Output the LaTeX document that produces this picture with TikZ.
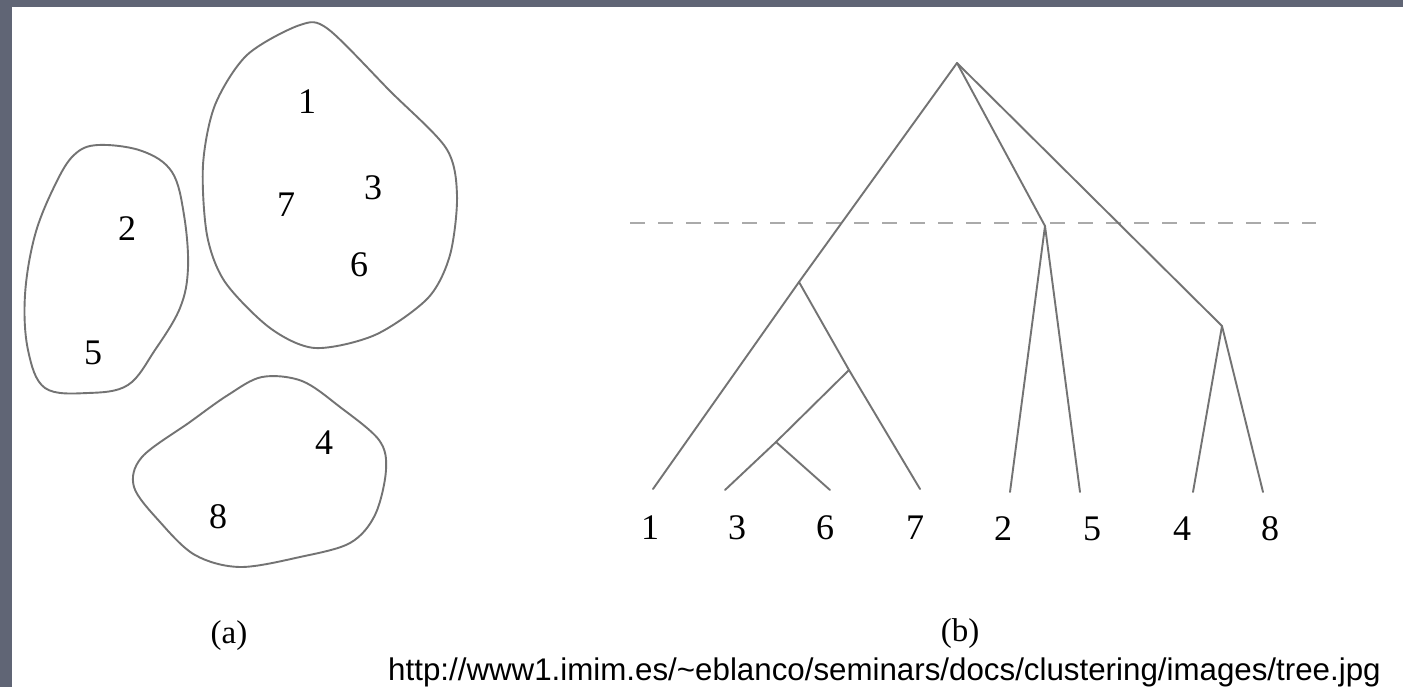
\documentclass[tikz,border=0pt]{standalone}
\usepackage{fontspec}
\setmainfont{Liberation Serif}
\newfontfamily\urlfont{Liberation Sans}
\definecolor{slate}{RGB}{96,101,117}
\definecolor{linegrey}{RGB}{115,115,115}
\definecolor{dashgrey}{RGB}{170,170,170}
\begin{document}
\begin{tikzpicture}[x=1pt,y=-1pt,
  edge/.style={draw=linegrey,line width=1.9pt,line cap=round,line join=round},
  blob/.style={draw=linegrey,line width=1.9pt},
  cutline/.style={draw=dashgrey,line width=2pt,dash pattern=on 15pt off 13pt},
  num/.style={inner sep=0pt,font=\fontsize{36}{40}\selectfont,text=black},
  captext/.style={inner sep=0pt,font=\fontsize{33}{40}\selectfont,text=black},
  urltext/.style={inner sep=0pt,anchor=base west,font=\urlfont\fontsize{31.3}{36}\selectfont,text=black}]
\useasboundingbox (0,0) rectangle (1403,687);
\fill[white] (0,0) rectangle (1403,687);
\fill[slate] (0,0) rectangle (1403,7);
\fill[slate] (0,0) rectangle (12,687);

% ---------- (a) clusters ----------
\draw[blob] plot[smooth cycle,tension=0.5] coordinates {
  (300,25) (328,29) (390,91) (446,148) (457,195) (450,255) (428,298)
  (375,335) (315,348) (270,328) (225,282) (207,235) (203,165) (215,105) (247,55)};
\draw[blob] plot[smooth cycle,tension=0.6] coordinates {
  (98,145) (142,151) (172,172) (184,215) (188,268) (180,308) (155,350)
  (128,385) (88,393) (45,388) (28,350) (25,295) (35,235) (55,185) (74,155)};
\draw[blob] plot[smooth cycle,tension=0.55] coordinates {
  (262,377) (302,381) (340,407) (379,440) (386,470) (375,515) (350,543)
  (300,557) (240,567) (195,555) (160,522) (134,487) (142,457) (190,422) (228,395)};

\node[num] (a1) at (307,102) {1};
\node[num] (a7) at (286,205) {7};
\node[num] (a3) at (373,188) {3};
\node[num] (a6) at (359,265) {6};
\node[num] (a2) at (127,229) {2};
\node[num] (a5) at (93,353) {5};
\node[num] (a4) at (324,443) {4};
\node[num] (a8) at (218,517) {8};
\node[captext] (capa) at (229,636) {(a)};

% ---------- (b) dendrogram ----------
\draw[cutline] (630,223) coordinate (cutL) -- (1316,223) coordinate (cutR);

\coordinate (root) at (957,63);
\coordinate (nA) at (799,282);
\coordinate (nB) at (849,370);
\coordinate (nC) at (776,442);
\coordinate (nD) at (1045,226);
\coordinate (nE) at (1222,326);
\coordinate (e1) at (653,489);
\coordinate (e3) at (725,490);
\coordinate (e6) at (830,490);
\coordinate (e7) at (920,489);
\coordinate (e2) at (1010,492);
\coordinate (e5) at (1080,492);
\coordinate (e4) at (1193,492);
\coordinate (e8) at (1263,492);

\draw[edge] (root) -- (nA) -- (e1);
\draw[edge] (nA) -- (nB) -- (e7);
\draw[edge] (nB) -- (nC) -- (e3);
\draw[edge] (nC) -- (e6);
\draw[edge] (root) -- (nD) -- (e2);
\draw[edge] (nD) -- (e5);
\draw[edge] (root) -- (nE) -- (e4);
\draw[edge] (nE) -- (e8);

\node[num] (b1) at (650,528) {1};
\node[num] (b3) at (737,528) {3};
\node[num] (b6) at (825,528) {6};
\node[num] (b7) at (915,528) {7};
\node[num] (b2) at (1003,529) {2};
\node[num] (b5) at (1092,529) {5};
\node[num] (b4) at (1182,529) {4};
\node[num] (b8) at (1270,529) {8};
\node[captext] (capb) at (960,634) {(b)};

\node[urltext] (url) at (388,680) {http://www1.imim.es/\textasciitilde eblanco/seminars/docs/clustering/images/tree.jpg};
\end{tikzpicture}
\end{document}
